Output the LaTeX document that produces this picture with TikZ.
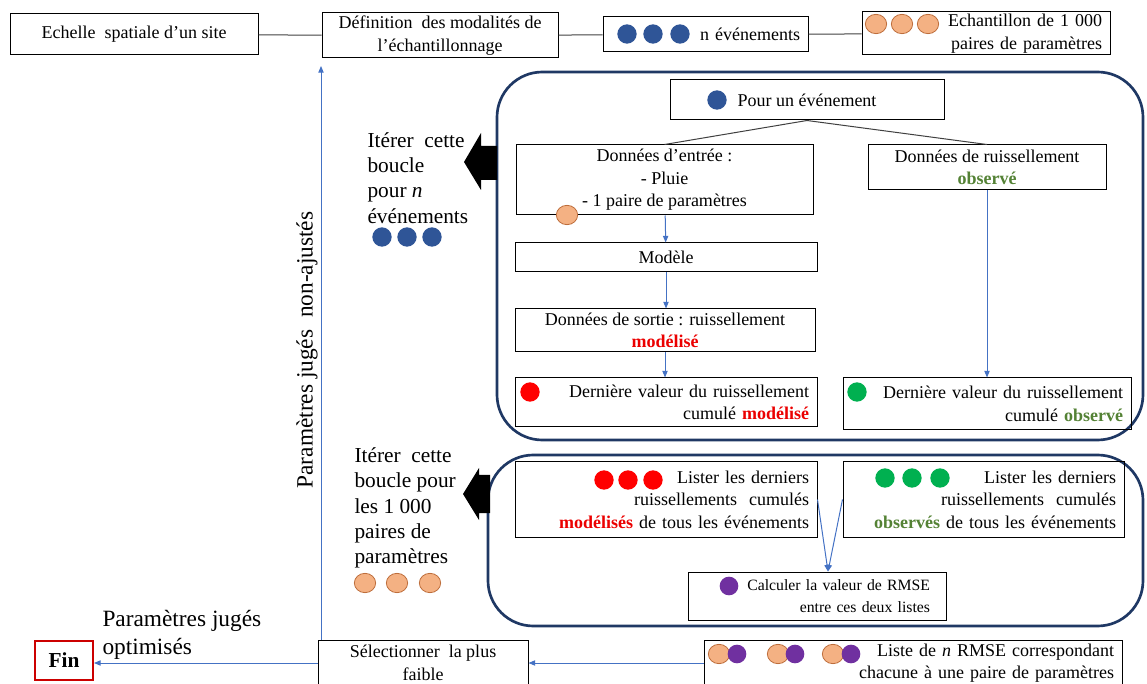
\documentclass[tikz,border=0pt]{standalone}
\usepackage{fontspec}
\setmainfont{Liberation Serif}
\usetikzlibrary{arrows.meta,shapes.geometric}

\definecolor{navydot}{RGB}{47,85,151}
\definecolor{peach}{RGB}{244,177,131}
\definecolor{peachedge}{RGB}{190,110,60}
\definecolor{dotred}{RGB}{255,0,0}
\definecolor{dotgreen}{RGB}{0,176,80}
\definecolor{dotpurple}{RGB}{112,48,160}
\definecolor{modred}{RGB}{235,0,0}
\definecolor{obsgreen}{RGB}{84,130,53}
\definecolor{framenavy}{RGB}{31,56,100}
\definecolor{flowblue}{RGB}{68,114,196}
\definecolor{linkgray}{RGB}{64,64,64}
\definecolor{finred}{RGB}{204,0,0}

\newcommand{\boxfont}{\fontsize{13.5}{16.8}\selectfont}
\newcommand{\notefont}{\fontsize{16}{19}\selectfont}
\newcommand{\lblfont}{\fontsize{17.5}{21}\selectfont}
\newcommand{\modl}[1]{\textcolor{modred}{\textbf{#1}}}
\newcommand{\obsv}[1]{\textcolor{obsgreen}{\textbf{#1}}}

\tikzset{every picture/.style={line width=0.75pt}}
\tikzset{
  box/.style={draw, inner sep=0pt, align=center, font=\boxfont},
  rbox/.style={draw, inner ysep=0pt, inner xsep=6pt, align=right, font=\boxfont},
  finbox/.style={draw=finred, line width=1.5pt, inner sep=0pt, minimum width=43.5pt, minimum height=29.25pt, font=\fontsize{16}{19}\selectfont\bfseries},
  dot/.style={circle, inner sep=0pt, minimum size=14.5pt},
  bluedot/.style={dot, fill=navydot},
  reddot/.style={dot, fill=dotred},
  greendot/.style={dot, fill=dotgreen},
  purpledot/.style={dot, fill=dotpurple, minimum size=14pt},
  peachdot/.style={ellipse, inner sep=0pt, minimum width=16pt, minimum height=14.5pt, fill=peach, draw=peachedge, line width=0.6pt},
  link/.style={draw=linkgray},
  flow/.style={draw=flowblue, -{Triangle[length=5pt,width=4pt]}},
  loopframe/.style={draw=framenavy, line width=2pt, rounded corners=34pt},
  note/.style={inner sep=0pt, align=left, font=\notefont, anchor=north west},
}

\begin{document}
\begin{tikzpicture}[x=0.75pt,y=0.75pt,yscale=-1,xscale=1]
\useasboundingbox (0,0) rectangle (1147,684);

%Rounded Rect
\draw[loopframe] (497,72) rectangle (1143,440);
\draw[loopframe] (488,455) rectangle (1143,626);

%Shape: Big Arrow
\fill (464,162) -- (481,133) -- (481,146) -- (497,146) -- (497,180) -- (481,180) -- (481,190) -- cycle;
\fill (463,494) -- (479,468) -- (479,475) -- (490,475) -- (490,513) -- (479,513) -- (479,520) -- cycle;

% Top row
\node[box, minimum width=186pt, minimum height=30.75pt] (site) at (134,34.5) {Echelle~ spatiale d'un site};
\node[box, minimum width=177pt, minimum height=33.75pt] (defn) at (440,35.5) {Définition~ des modalités de\\l'échantillonnage};
\node[rbox, text width=141.75pt, minimum height=26.25pt] (nev) at (705.5,34.5) {n événements};
\node[rbox, text width=174pt, minimum height=32.25pt] (ech) at (986,33.5) {Echantillon de 1~000\\paires de paramètres};

% Loop over events
\node[box, minimum width=205.5pt, minimum height=30pt] (pour) at (807,100) {Pour un événement};
\node[box, minimum width=222.75pt, minimum height=52.5pt] (entree) at (664.5,180) {Données d'entrée :\\- Pluie\\- 1 paire de paramètres};
\node[box, minimum width=226.5pt, minimum height=21.75pt] (modele) at (666,257.5) {Modèle};
\node[box, minimum width=225pt, minimum height=32.25pt] (sortie) at (665,330.5) {Données de sortie : ruissellement\\\modl{modélisé}};
\node[rbox, text width=214.5pt, minimum height=36.75pt] (dermod) at (666,402.5) {Dernière valeur du ruissellement\\cumulé \modl{modélisé}};
\node[box, minimum width=178.5pt, minimum height=33.75pt] (ruiss) at (987,167.5) {Données de ruissellement\\\obsv{observé}};
\node[rbox, text width=204pt, minimum height=39pt] (derobs) at (987,404) {Dernière valeur du ruissellement\\cumulé \obsv{observé}};

% Loop over parameter pairs
\node[rbox, text width=214.5pt, minimum height=56.25pt] (listmod) at (666,499.5) {Lister les derniers\\ruissellements~ cumulés\\\modl{modélisés} de tous les événements};
\node[rbox, text width=198.75pt, minimum height=56.25pt] (listobs) at (983.5,499.5) {Lister les derniers\\ruissellements~ cumulés\\\obsv{observés} de tous les événements};
\node[rbox, inner xsep=12pt, text width=169.5pt, minimum height=36pt, font=\fontsize{11.8}{16.5}\selectfont] (rmse) at (817,596) {Calculer la valeur de RMSE\\entre ces deux listes};

% Bottom row
\node[rbox, text width=301.5pt, minimum height=34.5pt] (liste) at (913,663) {Liste de \textit{n} RMSE correspondant\\chacune à une paire de paramètres};
\node[box, minimum width=157.5pt, minimum height=34.5pt] (select) at (423,663) {Sélectionner~ la plus\\faible};
\node[finbox] (fin) at (64,660.5) {Fin};

% Text Node
\node[note] (iterev) at (367,132) {Itérer~ cette\\boucle\\pour \textit{n}\\événements};
\node[note] (iterpar) at (354,447) {Itérer~ cette\\boucle pour\\les 1~000\\paires de\\paramètres};
\node[note, font=\lblfont] (optim) at (102,610) {Paramètres jugés\\optimisés};
\node[inner sep=0pt, font=\lblfont, rotate=90] (nonadj) at (307,350) {Paramètres jugés~ non-ajustés};

%Shape: Circle
\foreach \x [count=\i] in {627,653,680} \node[bluedot] (nevdot\i) at (\x,34) {};
\foreach \x [count=\i] in {876,902,928} \node[peachdot] (echdot\i) at (\x,24) {};
\node[bluedot] (pourdot) at (717,100) {};
\foreach \x [count=\i] in {382,407,432} \node[bluedot] (iterevdot\i) at (\x,237) {};
\foreach \x [count=\i] in {365,397,430} \node[peachdot] (iterpardot\i) at (\x,583) {};
\node[peachdot] (entreedot) at (567,215) {};
\node[reddot] (dermoddot) at (530,392) {};
\node[greendot] (derobsdot) at (857,392) {};
\foreach \x [count=\i] in {604,628,653} \node[reddot] (listmoddot\i) at (\x,480) {};
\foreach \x [count=\i] in {885,912,940} \node[greendot] (listobsdot\i) at (\x,478) {};
\node[purpledot] (rmsedot) at (729,586) {};
\foreach \x [count=\i] in {719,778,833} \node[peachdot] (listepdot\i) at (\x,654) {};
\foreach \x [count=\i] in {737,795,851} \node[purpledot] (listeqdot\i) at (\x,654) {};

%Straight Lines
\draw[link] (site) -- (defn);
\draw[link] (defn) -- (nev);
\draw[link] (nev) -- (ech);
\draw[link] (pour.south) -- (entree.north);
\draw[link] (pour.south) -- (ruiss.north);
\draw[flow] (entree) -- (modele);
\draw[flow] (modele.south) -- (modele.south |- sortie.north);
\draw[flow] (sortie.south) -- (sortie.south |- dermod.north);
\draw[flow] (ruiss) -- (derobs);
\draw[flow] (listmod.east) -- ([xshift=8.25pt]rmse.north);
\draw[flow] (listobs.west) -- ([xshift=8.25pt]rmse.north);
\draw[flow] (liste) -- (select);
\draw[flow] (select.west) -- (select.west -| fin.east);
\coordinate (topend) at (321,66);
\draw[flow] (topend |- select.north) -- (topend);

\end{tikzpicture}
\end{document}
